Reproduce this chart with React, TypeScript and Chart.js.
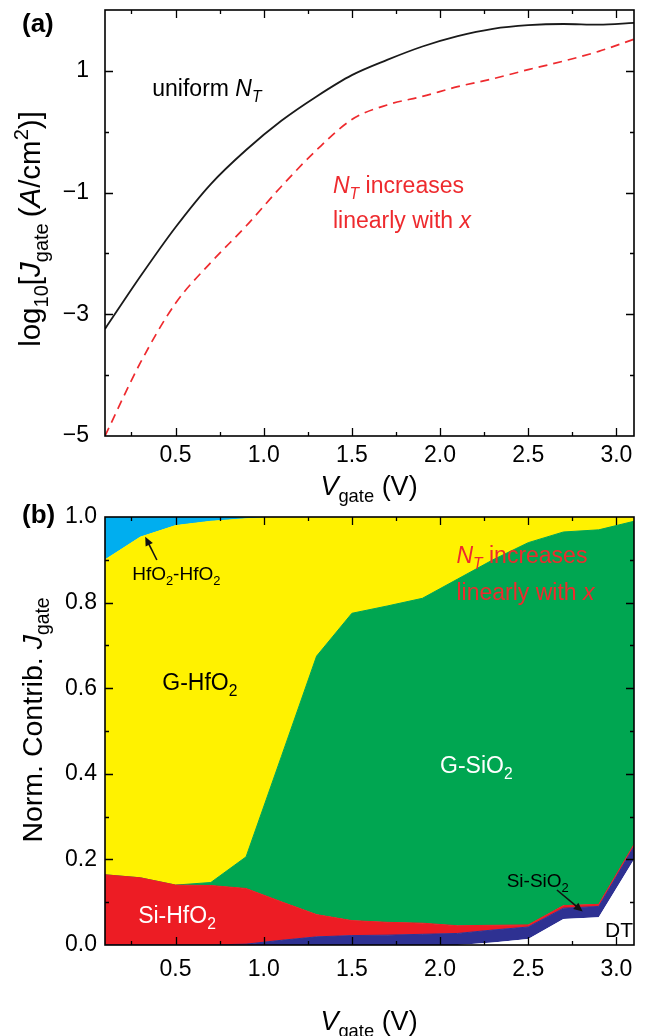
import React, { useEffect, useRef } from "react";
import { Chart, registerables } from "chart.js";

Chart.register(...registerables);

const FONT = "'Liberation Sans', Arial, Helvetica, sans-serif";

// ---------- data ----------
const voltages = [0.1, 0.3, 0.5, 0.7, 0.9, 1.1, 1.3, 1.5, 1.7, 1.9, 2.1, 2.3, 2.5, 2.7, 2.9, 3.1];

// panel (a): log10 Jgate
const logJUniform = [-3.24, -2.38, -1.57, -0.86, -0.3, 0.18, 0.58, 0.93, 1.18, 1.4, 1.57, 1.69, 1.75, 1.77, 1.76, 1.79];
const logJLinear = [-5.0, -3.8, -2.82, -2.15, -1.55, -0.9, -0.3, 0.2, 0.44, 0.58, 0.74, 0.87, 1.02, 1.16, 1.32, 1.52];

// panel (b): normalized contributions (stacked bottom -> top)
const contribDT = [0, 0, 0, 0, 0, 0, 0, 0, 0, 0, 0, 0.006, 0.014, 0.061, 0.065, 0.2];
const contribSiSiO2 = [0, 0, 0, 0, 0.002, 0.011, 0.019, 0.022, 0.023, 0.025, 0.027, 0.029, 0.028, 0.025, 0.025, 0.03];
const contribSiHfO2 = [0.164, 0.157, 0.14, 0.139, 0.13, 0.09, 0.052, 0.035, 0.03, 0.026, 0.018, 0.011, 0.005, 0.006, 0.005, 0.005];
const contribGSiO2 = [0, 0, 0, 0.007, 0.074, 0.339, 0.604, 0.718, 0.739, 0.759, 0.81, 0.854, 0.893, 0.873, 0.875, 0.755];
const contribGHfO2 = [0.736, 0.796, 0.84, 0.844, 0.79, 0.56, 0.325, 0.225, 0.208, 0.19, 0.145, 0.1, 0.06, 0.035, 0.03, 0.01];
const contribHfO2HfO2 = [0.1, 0.047, 0.02, 0.01, 0.004, 0, 0, 0, 0, 0, 0, 0, 0, 0, 0, 0];

// ticks
const xTickValues = [0.5, 1.0, 1.5, 2.0, 2.5, 3.0];
const xTickLabels = ["0.5", "1.0", "1.5", "2.0", "2.5", "3.0"];
const xMinorValues = [0.25, 0.75, 1.25, 1.75, 2.25, 2.75];
const yTickValuesA = [-5, -3, -1, 1];
const yTickLabelsA = ["\u22125", "\u22123", "\u22121", "1"];
const yMinorValuesA = [-4, -2, 0];
const yTickValuesB = [0, 0.2, 0.4, 0.6, 0.8, 1.0];
const yTickLabelsB = ["0.0", "0.2", "0.4", "0.6", "0.8", "1.0"];
const yMinorValuesB = [0.1, 0.3, 0.5, 0.7, 0.9];

const colors = {
  dt: "#ffffff",
  siSiO2: "#2e3192",
  siHfO2: "#ed1c24",
  gSiO2: "#00a651",
  gHfO2: "#fff200",
  hfHf: "#00aeef",
  red: "#ee2a2e",
};

// ---------- rich text helpers ----------
type Seg = { t: string; i?: boolean; b?: boolean; sub?: boolean; sup?: boolean };

function segFont(s: Seg, size: number) {
  const fs = s.sub || s.sup ? size * 0.68 : size;
  return `${s.i ? "italic " : ""}${s.b ? "bold " : ""}${fs}px ${FONT}`;
}
function richWidth(ctx: CanvasRenderingContext2D, segs: Seg[], size: number) {
  let w = 0;
  for (const s of segs) {
    ctx.font = segFont(s, size);
    w += ctx.measureText(s.t).width;
  }
  return w;
}
function drawRich(
  ctx: CanvasRenderingContext2D,
  segs: Seg[],
  x: number,
  y: number,
  size: number,
  color: string,
  align: "left" | "center",
  rot: number
) {
  ctx.save();
  ctx.translate(x, y);
  if (rot) ctx.rotate(rot);
  ctx.fillStyle = color;
  ctx.textBaseline = "alphabetic";
  ctx.textAlign = "left";
  let cx = align === "center" ? -richWidth(ctx, segs, size) / 2 : 0;
  for (const s of segs) {
    ctx.font = segFont(s, size);
    const dy = s.sub ? size * 0.26 : s.sup ? -size * 0.42 : 0;
    ctx.fillText(s.t, cx, dy);
    cx += ctx.measureText(s.t).width;
  }
  ctx.restore();
}

type Note = {
  segs: Seg[];
  x?: number;
  y?: number;
  px?: [number, number];
  size: number;
  color: string;
  align?: "left" | "center";
  rot?: number;
};
type Arrow = { from: [number, number]; to: [number, number] };

function makeNotesPlugin(id: string, notes: Note[], arrows: Arrow[]) {
  return {
    id,
    afterDraw(chart: any) {
      const ctx: CanvasRenderingContext2D = chart.ctx;
      const xs = chart.scales.x;
      const ys = chart.scales.y;
      ctx.save();
      for (const n of notes) {
        const x = n.px ? n.px[0] : xs.getPixelForValue(n.x);
        const y = n.px ? n.px[1] : ys.getPixelForValue(n.y);
        drawRich(ctx, n.segs, x, y, n.size, n.color, n.align || "left", n.rot || 0);
      }
      for (const a of arrows) {
        const x1 = xs.getPixelForValue(a.from[0]);
        const y1 = ys.getPixelForValue(a.from[1]);
        const x2 = xs.getPixelForValue(a.to[0]);
        const y2 = ys.getPixelForValue(a.to[1]);
        const ang = Math.atan2(y2 - y1, x2 - x1);
        const hl = 9;
        const hw = 4;
        ctx.strokeStyle = "#111";
        ctx.fillStyle = "#111";
        ctx.lineWidth = 1.6;
        ctx.beginPath();
        ctx.moveTo(x1, y1);
        ctx.lineTo(x2 - Math.cos(ang) * hl * 0.8, y2 - Math.sin(ang) * hl * 0.8);
        ctx.stroke();
        ctx.beginPath();
        ctx.moveTo(x2, y2);
        ctx.lineTo(x2 - Math.cos(ang) * hl - Math.sin(ang) * hw, y2 - Math.sin(ang) * hl + Math.cos(ang) * hw);
        ctx.lineTo(x2 - Math.cos(ang) * hl + Math.sin(ang) * hw, y2 - Math.sin(ang) * hl - Math.cos(ang) * hw);
        ctx.closePath();
        ctx.fill();
      }
      ctx.restore();
    },
  };
}

function makeFramePlugin(xMajor: number[], xMinor: number[], yMajor: number[], yMinor: number[]) {
  return {
    id: "frame",
    afterDatasetsDraw(chart: any) {
      const ctx: CanvasRenderingContext2D = chart.ctx;
      const a = chart.chartArea;
      const xs = chart.scales.x;
      const ys = chart.scales.y;
      ctx.save();
      ctx.strokeStyle = "#000";
      ctx.lineWidth = 1.3;
      const vt = (v: number, len: number) => {
        const p = Math.round(xs.getPixelForValue(v)) + 0.5;
        if (p < a.left + 1 || p > a.right - 1) return;
        ctx.beginPath();
        ctx.moveTo(p, a.bottom);
        ctx.lineTo(p, a.bottom - len);
        ctx.moveTo(p, a.top);
        ctx.lineTo(p, a.top + len);
        ctx.stroke();
      };
      const ht = (v: number, len: number) => {
        const p = Math.round(ys.getPixelForValue(v)) + 0.5;
        if (p < a.top + 1 || p > a.bottom - 1) return;
        ctx.beginPath();
        ctx.moveTo(a.left, p);
        ctx.lineTo(a.left + len, p);
        ctx.moveTo(a.right, p);
        ctx.lineTo(a.right - len, p);
        ctx.stroke();
      };
      xMajor.forEach((v) => vt(v, 8));
      xMinor.forEach((v) => vt(v, 4));
      yMajor.forEach((v) => ht(v, 8));
      yMinor.forEach((v) => ht(v, 4));
      ctx.lineWidth = 1.6;
      ctx.strokeRect(a.left, a.top, a.right - a.left, a.bottom - a.top);
      ctx.restore();
    },
  };
}

const xTitle: Seg[] = [{ t: "V", i: true }, { t: "gate", sub: true }, { t: " (V)" }];

function xAxisOptions(height: number, padding: number) {
  return {
    type: "linear" as const,
    min: 0.1,
    max: 3.1,
    grid: { display: false, drawTicks: false },
    border: { display: false },
    ticks: {
      color: "#000",
      font: { family: FONT, size: 23 },
      padding,
      maxRotation: 0,
      autoSkip: false,
      callback: (_v: any, i: number) => xTickLabels[i],
    },
    afterBuildTicks: (s: any) => {
      s.ticks = xTickValues.map((v) => ({ value: v }));
    },
    afterFit: (s: any) => {
      s.height = height;
      s.paddingLeft = 0;
      s.paddingRight = 0;
    },
  };
}

function yFit(s: any) {
  s.width = 105;
  s.paddingTop = 0;
  s.paddingBottom = 0;
}

function ChartA() {
  const ref = useRef<HTMLCanvasElement>(null);
  useEffect(() => {
    const notes: Note[] = [
      { segs: [{ t: "(a)", b: true }], px: [22, 32], size: 26, color: "#000" },
      { segs: [{ t: "uniform " }, { t: "N", i: true }, { t: "T", i: true, sub: true }], x: 0.368, y: 0.58, size: 23, color: "#000" },
      { segs: [{ t: "N", i: true }, { t: "T", i: true, sub: true }, { t: " increases" }], x: 1.393, y: -1.0, size: 23, color: colors.red },
      { segs: [{ t: "linearly with " }, { t: "x", i: true }], x: 1.393, y: -1.58, size: 23, color: colors.red },
      { segs: xTitle, px: [369, 495], size: 27, color: "#000", align: "center" },
      {
        segs: [
          { t: "log" },
          { t: "10", sub: true },
          { t: "[" },
          { t: "J", i: true },
          { t: "gate", sub: true },
          { t: "\u2009(" },
          { t: "A", i: true },
          { t: "/cm" },
          { t: "2", sup: true },
          { t: ")]" },
        ],
        px: [40, 229],
        size: 29.5,
        color: "#000",
        align: "center",
        rot: -Math.PI / 2,
      },
    ];
    const chart = new Chart(ref.current!, {
      type: "line",
      data: {
        datasets: [
          {
            label: "uniform NT",
            data: voltages.map((v, i) => ({ x: v, y: logJUniform[i] })),
            borderColor: "#1a1a1a",
            borderWidth: 1.8,
            pointRadius: 0,
            cubicInterpolationMode: "monotone",
            fill: false,
          },
          {
            label: "NT increases linearly with x",
            data: voltages.map((v, i) => ({ x: v, y: logJLinear[i] })),
            borderColor: colors.red,
            borderWidth: 1.7,
            borderDash: [9, 6],
            pointRadius: 0,
            cubicInterpolationMode: "monotone",
            fill: false,
          },
        ],
      },
      options: {
        responsive: false,
        animation: false,
        layout: { padding: { left: 0, right: 21, top: 10, bottom: 0 } },
        plugins: { legend: { display: false }, tooltip: { enabled: false } },
        scales: {
          x: xAxisOptions(515 - 436, 6),
          y: {
            type: "linear",
            min: -5,
            max: 2,
            grid: { display: false, drawTicks: false },
            border: { display: false },
            ticks: {
              color: "#000",
              font: { family: FONT, size: 23 },
              padding: 16,
              callback: (_v: any, i: number) => yTickLabelsA[i],
            },
            afterBuildTicks: (s: any) => {
              s.ticks = yTickValuesA.map((v) => ({ value: v }));
            },
            afterFit: yFit,
          },
        },
      },
      plugins: [
        makeFramePlugin(xTickValues, xMinorValues, yTickValuesA, yMinorValuesA),
        makeNotesPlugin("notesA", notes, []),
      ],
    } as any);
    return () => chart.destroy();
  }, []);
  return <canvas ref={ref} width={655} height={515} style={{ position: "absolute", left: 0, top: 0, display: "block" }} />;
}

function ChartB() {
  const ref = useRef<HTMLCanvasElement>(null);
  useEffect(() => {
    const sub2: Seg = { t: "2", sub: true };
    const notes: Note[] = [
      { segs: [{ t: "(b)", b: true }], px: [22, 23], size: 26, color: "#000" },
      { segs: [{ t: "HfO" }, sub2, { t: "-HfO" }, sub2], x: 0.254, y: 0.853, size: 19, color: "#000" },
      { segs: [{ t: "G-HfO" }, sub2], x: 0.425, y: 0.596, size: 23, color: "#000" },
      { segs: [{ t: "G-SiO" }, sub2], x: 2.0, y: 0.402, size: 23, color: "#ffffff" },
      { segs: [{ t: "N", i: true }, { t: "T", i: true, sub: true }, { t: " increases" }], x: 2.093, y: 0.8925, size: 23, color: colors.red },
      { segs: [{ t: "linearly with " }, { t: "x", i: true }], x: 2.093, y: 0.806, size: 23, color: colors.red },
      { segs: [{ t: "Si-HfO" }, sub2], x: 0.288, y: 0.051, size: 23, color: "#ffffff" },
      { segs: [{ t: "Si-SiO" }, sub2], x: 2.378, y: 0.136, size: 19, color: "#000" },
      { segs: [{ t: "DT" }], x: 2.936, y: 0.0195, size: 21, color: "#000" },
      { segs: xTitle, px: [369, 530], size: 27, color: "#000", align: "center" },
      {
        segs: [{ t: "Norm. Contrib. " }, { t: "J", i: true }, { t: "gate", sub: true }],
        px: [42, 220],
        size: 28.5,
        color: "#000",
        align: "center",
        rot: -Math.PI / 2,
      },
    ];
    const arrows: Arrow[] = [
      { from: [0.394, 0.8995], to: [0.328, 0.954] },
      { from: [2.663, 0.1285], to: [2.809, 0.078] },
    ];
    const series = [
      { label: "DT", values: contribDT, color: colors.dt, bw: 0 },
      { label: "Si-SiO2", values: contribSiSiO2, color: colors.siSiO2, bw: 1 },
      { label: "Si-HfO2", values: contribSiHfO2, color: colors.siHfO2, bw: 1 },
      { label: "G-SiO2", values: contribGSiO2, color: colors.gSiO2, bw: 1 },
      { label: "G-HfO2", values: contribGHfO2, color: colors.gHfO2, bw: 1 },
      { label: "HfO2-HfO2", values: contribHfO2HfO2, color: colors.hfHf, bw: 1 },
    ];
    const chart = new Chart(ref.current!, {
      type: "line",
      data: {
        datasets: series.map((s, k) => ({
          label: s.label,
          data: voltages.map((v, i) => ({ x: v, y: s.values[i] })),
          backgroundColor: s.color,
          borderColor: s.color,
          borderWidth: s.bw,
          pointRadius: 0,
          tension: 0,
          fill: k === 0 ? "origin" : "-1",
        })),
      },
      options: {
        responsive: false,
        animation: false,
        layout: { padding: { left: 0, right: 21, top: 17, bottom: 0 } },
        plugins: { legend: { display: false }, tooltip: { enabled: false } },
        scales: {
          x: xAxisOptions(91, 11),
          y: {
            type: "linear",
            min: 0,
            max: 1,
            stacked: true,
            grid: { display: false, drawTicks: false },
            border: { display: false },
            ticks: {
              color: "#000",
              font: { family: FONT, size: 23 },
              padding: 8,
              callback: (_v: any, i: number) => yTickLabelsB[i],
            },
            afterBuildTicks: (s: any) => {
              s.ticks = yTickValuesB.map((v) => ({ value: v }));
            },
            afterFit: yFit,
          },
        },
      },
      plugins: [
        makeFramePlugin(xTickValues, xMinorValues, yTickValuesB, yMinorValuesB),
        makeNotesPlugin("notesB", notes, arrows),
      ],
    } as any);
    return () => chart.destroy();
  }, []);
  return <canvas ref={ref} width={655} height={536} style={{ position: "absolute", left: 0, top: 500, display: "block" }} />;
}

export default function App() {
  return (
    <div style={{ position: "absolute", left: 0, top: 0, width: 655, height: 1036, background: "#fff", overflow: "hidden" }}>
      <ChartA />
      <ChartB />
    </div>
  );
}
